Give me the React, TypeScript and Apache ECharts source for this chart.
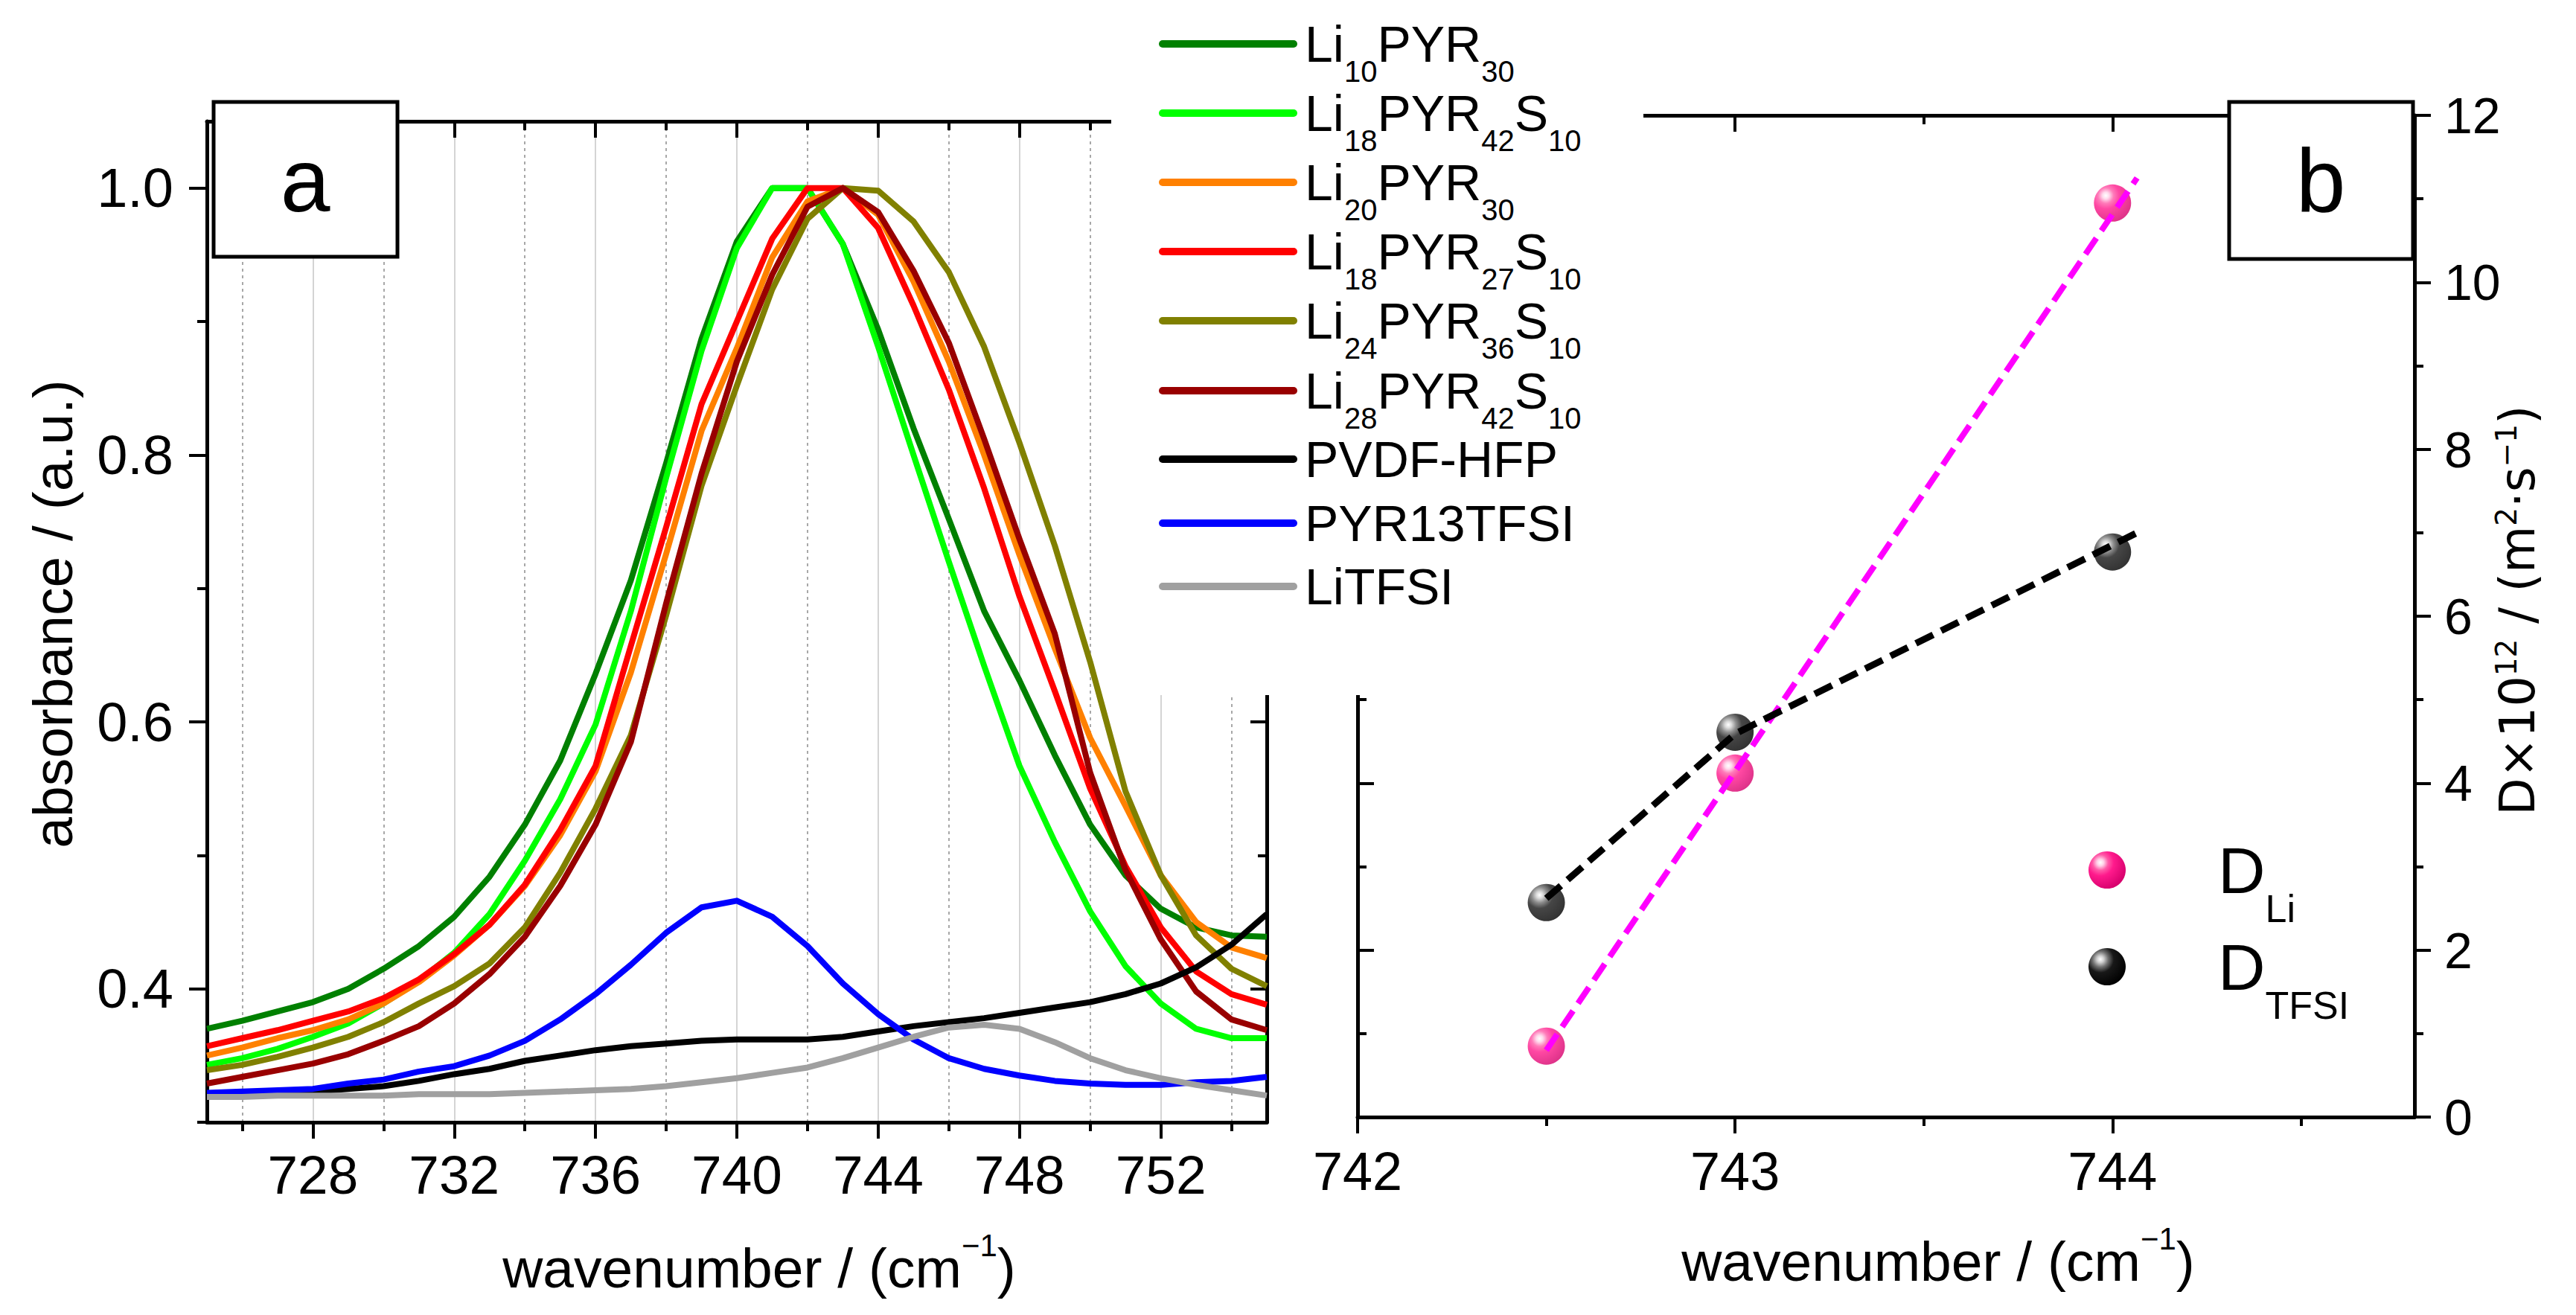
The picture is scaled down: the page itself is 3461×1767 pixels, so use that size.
import React, { useEffect, useRef } from "react";
import * as echarts from "echarts";

const W = 3461;
const H = 1767;
const FONT = "Liberation Sans";

// ---------- panel a : FTIR absorbance ----------
const wavenumbers = [725, 726, 727, 728, 729, 730, 731, 732, 733, 734, 735, 736, 737, 738, 739, 740, 741, 742, 743, 744, 745, 746, 747, 748, 749, 750, 751, 752, 753, 754, 755];

const absLi10PYR30 = [0.370, 0.376, 0.383, 0.390, 0.400, 0.415, 0.432, 0.454, 0.484, 0.523, 0.571, 0.636, 0.706, 0.794, 0.887, 0.960, 1.000, 1.000, 0.958, 0.894, 0.820, 0.752, 0.683, 0.631, 0.575, 0.523, 0.485, 0.460, 0.446, 0.440, 0.439];
const absLi18PYR42S10 = [0.343, 0.348, 0.355, 0.364, 0.374, 0.389, 0.406, 0.427, 0.456, 0.496, 0.542, 0.598, 0.683, 0.783, 0.878, 0.955, 1.000, 1.000, 0.958, 0.881, 0.800, 0.720, 0.642, 0.567, 0.510, 0.458, 0.417, 0.389, 0.370, 0.363, 0.363];
const absLi20PYR30 = [0.350, 0.356, 0.363, 0.369, 0.377, 0.389, 0.405, 0.425, 0.448, 0.477, 0.515, 0.563, 0.637, 0.726, 0.818, 0.880, 0.948, 0.990, 1.000, 0.980, 0.930, 0.870, 0.800, 0.725, 0.655, 0.588, 0.537, 0.485, 0.450, 0.431, 0.423];
const absLi18PYR27S10 = [0.357, 0.363, 0.369, 0.376, 0.383, 0.393, 0.407, 0.426, 0.448, 0.478, 0.519, 0.567, 0.657, 0.746, 0.838, 0.900, 0.962, 1.000, 1.000, 0.970, 0.912, 0.849, 0.775, 0.694, 0.623, 0.550, 0.492, 0.446, 0.413, 0.396, 0.388];
const absLi24PYR36S10 = [0.339, 0.343, 0.349, 0.356, 0.364, 0.375, 0.389, 0.402, 0.419, 0.446, 0.487, 0.535, 0.590, 0.680, 0.777, 0.852, 0.924, 0.977, 1.000, 0.998, 0.975, 0.937, 0.881, 0.809, 0.732, 0.645, 0.548, 0.485, 0.440, 0.415, 0.402];
const absLi28PYR42S10 = [0.329, 0.334, 0.339, 0.344, 0.351, 0.361, 0.372, 0.389, 0.411, 0.439, 0.477, 0.523, 0.585, 0.689, 0.786, 0.870, 0.935, 0.986, 1.000, 0.982, 0.938, 0.884, 0.812, 0.737, 0.666, 0.562, 0.489, 0.437, 0.398, 0.377, 0.369];
const absPVDFHFP = [0.321, 0.322, 0.322, 0.323, 0.325, 0.327, 0.331, 0.336, 0.340, 0.346, 0.350, 0.354, 0.357, 0.359, 0.361, 0.362, 0.362, 0.362, 0.364, 0.368, 0.372, 0.375, 0.378, 0.382, 0.386, 0.390, 0.396, 0.404, 0.416, 0.433, 0.456];
const absPYR13TFSI = [0.322, 0.323, 0.324, 0.325, 0.329, 0.332, 0.338, 0.342, 0.350, 0.361, 0.377, 0.396, 0.418, 0.442, 0.461, 0.466, 0.454, 0.432, 0.404, 0.381, 0.362, 0.348, 0.340, 0.335, 0.331, 0.329, 0.328, 0.328, 0.330, 0.331, 0.334];
const absLiTFSI = [0.319, 0.319, 0.320, 0.320, 0.320, 0.320, 0.321, 0.321, 0.321, 0.322, 0.323, 0.324, 0.325, 0.327, 0.330, 0.333, 0.337, 0.341, 0.348, 0.356, 0.364, 0.371, 0.373, 0.370, 0.360, 0.348, 0.339, 0.333, 0.328, 0.324, 0.320];

const seriesNames = ["Li10PYR30", "Li18PYR42S10", "Li20PYR30", "Li18PYR27S10", "Li24PYR36S10", "Li28PYR42S10", "PVDF-HFP", "PYR13TFSI", "LiTFSI"];
const seriesValues = [absLi10PYR30, absLi18PYR42S10, absLi20PYR30, absLi18PYR27S10, absLi24PYR36S10, absLi28PYR42S10, absPVDFHFP, absPYR13TFSI, absLiTFSI];
const seriesColors = ["#008000", "#00ff00", "#ff8000", "#ff0000", "#808000", "#990000", "#000000", "#0000ff", "#a0a0a0"];
const legendLabels = [
  "{m|Li}{s|10}{m|PYR}{s|30}",
  "{m|Li}{s|18}{m|PYR}{s|42}{m|S}{s|10}",
  "{m|Li}{s|20}{m|PYR}{s|30}",
  "{m|Li}{s|18}{m|PYR}{s|27}{m|S}{s|10}",
  "{m|Li}{s|24}{m|PYR}{s|36}{m|S}{s|10}",
  "{m|Li}{s|28}{m|PYR}{s|42}{m|S}{s|10}",
  "{m|PVDF-HFP}",
  "{m|PYR13TFSI}",
  "{m|LiTFSI}",
];

const xMajorA = [728, 732, 736, 740, 744, 748, 752];
const xMinorA = [726, 730, 734, 738, 742, 746, 750, 754];
const yMajorA = [0.4, 0.6, 0.8, 1.0];
const yMinorA = [0.3, 0.5, 0.7, 0.9];

// ---------- panel b : diffusion coefficients ----------
const peakPositions = [742.5, 743, 744];
const dLi = [0.85, 4.12, 10.95];
const dTFSI = [2.57, 4.61, 6.77];
const fitLiX = [742.5, 744.065];
const fitLiY = [0.8, 11.25];
const fitTFSIX = [742.5, 743, 744.065];
const fitTFSIY = [2.62, 4.59, 7.0];

const xMajorB = [742, 743, 744];
const xMinorB = [742.5, 743.5, 744.5];
const yMajorB = [0, 2, 4, 6, 8, 10, 12];
const yMinorB = [1, 3, 5, 7, 9, 11];

function makeAxis(o: any) {
  return {
    type: "value",
    gridIndex: o.grid,
    position: o.position,
    min: o.min,
    max: o.max,
    axisLine: { show: !!o.line, onZero: false, lineStyle: { color: "#000", width: 5 } },
    axisTick: {
      show: true,
      inside: !!o.inside,
      length: o.tickLen,
      customValues: o.ticks,
      lineStyle: { color: "#000", width: 4 },
    },
    axisLabel: o.labels
      ? {
          show: true,
          customValues: o.ticks,
          margin: o.labelMargin,
          fontSize: o.labelSize,
          fontFamily: FONT,
          color: "#000",
          formatter: o.formatter,
        }
      : { show: false },
    splitLine: o.split ? { show: true, lineStyle: o.split } : { show: false },
    minorTick: { show: false },
    minorSplitLine: { show: false },
    splitArea: { show: false },
  };
}

function pinkBall() {
  return new echarts.graphic.RadialGradient(0.32, 0.3, 0.75, [
    { offset: 0, color: "#ffffff" },
    { offset: 0.12, color: "#ffd2e8" },
    { offset: 0.28, color: "#ff5aa8" },
    { offset: 0.48, color: "#ff1a8c" },
    { offset: 1, color: "#d6006c" },
  ]);
}
function blackBall() {
  return new echarts.graphic.RadialGradient(0.32, 0.3, 0.75, [
    { offset: 0, color: "#ffffff" },
    { offset: 0.12, color: "#d0d0d0" },
    { offset: 0.28, color: "#707070" },
    { offset: 0.48, color: "#181818" },
    { offset: 1, color: "#000000" },
  ]);
}

function buildOption() {
  const xAxis = [
    makeAxis({ grid: 0, position: "bottom", min: 725, max: 755, line: true, ticks: xMajorA, tickLen: 22, labels: true, labelMargin: 34, labelSize: 73, split: { color: "#d4d4d4", width: 2, type: "solid" } }),
    makeAxis({ grid: 0, position: "bottom", min: 725, max: 755, line: false, ticks: xMinorA, tickLen: 12, split: { color: "#a8a8a8", width: 2, type: [4, 5] } }),
    makeAxis({ grid: 0, position: "top", min: 725, max: 755, line: true, inside: true, ticks: xMajorA, tickLen: 22 }),
    makeAxis({ grid: 0, position: "top", min: 725, max: 755, line: false, inside: true, ticks: xMinorA, tickLen: 12 }),
    makeAxis({ grid: 1, position: "bottom", min: 742, max: 744.8, line: true, ticks: xMajorB, tickLen: 22, labels: true, labelMargin: 37, labelSize: 72 }),
    makeAxis({ grid: 1, position: "bottom", min: 742, max: 744.8, line: false, ticks: xMinorB, tickLen: 12 }),
    makeAxis({ grid: 1, position: "top", min: 742, max: 744.8, line: true, inside: true, ticks: xMajorB, tickLen: 22 }),
    makeAxis({ grid: 1, position: "top", min: 742, max: 744.8, line: false, inside: true, ticks: xMinorB, tickLen: 12 }),
  ];
  const yAxis = [
    makeAxis({ grid: 0, position: "left", min: 0.3, max: 1.05, line: true, ticks: yMajorA, tickLen: 24, labels: true, labelMargin: 45, labelSize: 74, formatter: (v: number) => v.toFixed(1) }),
    makeAxis({ grid: 0, position: "left", min: 0.3, max: 1.05, line: false, ticks: yMinorA, tickLen: 13 }),
    makeAxis({ grid: 0, position: "right", min: 0.3, max: 1.05, line: true, inside: true, ticks: yMajorA, tickLen: 22 }),
    makeAxis({ grid: 0, position: "right", min: 0.3, max: 1.05, line: false, inside: true, ticks: yMinorA, tickLen: 12 }),
    makeAxis({ grid: 1, position: "right", min: 0, max: 12, line: true, ticks: yMajorB, tickLen: 22, labels: true, labelMargin: 40, labelSize: 68 }),
    makeAxis({ grid: 1, position: "right", min: 0, max: 12, line: false, ticks: yMinorB, tickLen: 12 }),
    makeAxis({ grid: 1, position: "left", min: 0, max: 12, line: true, inside: true, ticks: yMajorB, tickLen: 22 }),
    makeAxis({ grid: 1, position: "left", min: 0, max: 12, line: false, inside: true, ticks: yMinorB, tickLen: 12 }),
  ];

  const series: any[] = seriesNames.map((name, i) => ({
    name,
    type: "line",
    xAxisIndex: 0,
    yAxisIndex: 0,
    data: wavenumbers.map((w, j) => [w, seriesValues[i][j]]),
    showSymbol: false,
    symbol: "none",
    lineStyle: { color: seriesColors[i], width: 8, join: "round" },
    itemStyle: { color: seriesColors[i] },
    z: 2 + i * 0.01,
  }));

  series.push(
    {
      name: "D_Li",
      type: "scatter",
      xAxisIndex: 4,
      yAxisIndex: 4,
      data: peakPositions.map((p, i) => [p, dLi[i]]),
      symbol: "circle",
      symbolSize: 50,
      itemStyle: { color: pinkBall() },
      z: 3,
    },
    {
      name: "D_TFSI",
      type: "scatter",
      xAxisIndex: 4,
      yAxisIndex: 4,
      data: peakPositions.map((p, i) => [p, dTFSI[i]]),
      symbol: "circle",
      symbolSize: 50,
      itemStyle: { color: blackBall() },
      z: 3,
    },
    {
      name: "D_Li fit",
      type: "line",
      xAxisIndex: 4,
      yAxisIndex: 4,
      data: fitLiX.map((x, i) => [x, fitLiY[i]]),
      showSymbol: false,
      symbol: "none",
      lineStyle: { color: "#ff00ff", width: 8, type: [26, 12] },
      z: 4,
    },
    {
      name: "D_TFSI fit",
      type: "line",
      xAxisIndex: 4,
      yAxisIndex: 4,
      data: fitTFSIX.map((x, i) => [x, fitTFSIY[i]]),
      showSymbol: false,
      symbol: "none",
      lineStyle: { color: "#000000", width: 9, type: [26, 12] },
      z: 4,
    }
  );

  const legendLineY = [59, 152, 245, 338, 431, 525, 617, 703, 788];
  const txt = (props: any) => ({ type: "text", z: 101, ...props });
  const graphic: any[] = [
    { type: "rect", z: 100, shape: { x: 1493, y: 0, width: 715, height: 934 }, style: { fill: "#ffffff" } },
  ];
  seriesNames.forEach((_, i) => {
    graphic.push({
      type: "line",
      z: 101,
      shape: { x1: 1562, y1: legendLineY[i], x2: 1738, y2: legendLineY[i] },
      style: { stroke: seriesColors[i], lineWidth: 10, lineCap: "round" },
    });
    graphic.push(
      txt({
        x: 1753,
        y: legendLineY[i],
        style: {
          text: legendLabels[i],
          align: "left",
          verticalAlign: "middle",
          textAlign: "left",
          textVerticalAlign: "middle",
          fill: "#000",
          fontSize: 68,
          fontFamily: FONT,
          lineHeight: 72,
          rich: {
            m: { fontSize: 68, fontFamily: FONT, lineHeight: 72, fill: "#000" },
            s: { fontSize: 40, fontFamily: FONT, lineHeight: 72, padding: [73, 0, 0, 0], fill: "#000" },
          },
        },
      })
    );
  });

  // panel labels
  graphic.push(
    { type: "rect", z: 100, shape: { x: 287, y: 137, width: 247, height: 208 }, style: { fill: "#fff", stroke: "#000", lineWidth: 5 } },
    txt({ x: 410, y: 242, style: { text: "a", fontSize: 120, fontFamily: FONT, fill: "#000", align: "center", verticalAlign: "middle", textAlign: "center", textVerticalAlign: "middle" } }),
    { type: "rect", z: 100, shape: { x: 2995, y: 137, width: 247, height: 211 }, style: { fill: "#fff", stroke: "#000", lineWidth: 5 } },
    txt({ x: 3118, y: 242, style: { text: "b", fontSize: 120, fontFamily: FONT, fill: "#000", align: "center", verticalAlign: "middle", textAlign: "center", textVerticalAlign: "middle" } })
  );

  // axis titles
  const xTitleRich = {
    m: { fontSize: 75, fontFamily: FONT, lineHeight: 80, fill: "#000" },
    p: { fontSize: 42, fontFamily: FONT, lineHeight: 80, padding: [0, 0, 61, 0], fill: "#000" },
  };
  graphic.push(
    txt({ x: 1020, y: 1704, style: { text: "{m|wavenumber / (cm}{p|\u22121}{m|)}", align: "center", verticalAlign: "middle", textAlign: "center", textVerticalAlign: "middle", fontSize: 75, fontFamily: FONT, lineHeight: 80, fill: "#000", rich: xTitleRich } }),
    txt({ x: 2604, y: 1695, style: { text: "{m|wavenumber / (cm}{p|\u22121}{m|)}", align: "center", verticalAlign: "middle", textAlign: "center", textVerticalAlign: "middle", fontSize: 75, fontFamily: FONT, lineHeight: 80, fill: "#000", rich: xTitleRich } }),
    txt({ x: 71, y: 825, rotation: Math.PI / 2, style: { text: "absorbance / (a.u.)", align: "center", verticalAlign: "middle", textAlign: "center", textVerticalAlign: "middle", fontSize: 75, fontFamily: FONT, fill: "#000" } }),
    txt({
      x: 3382,
      y: 820,
      rotation: Math.PI / 2,
      style: {
        text: "{m|D\u00d710}{p|12}{m| / (m}{p|2}{m|\u00b7s}{p|\u22121}{m|)}",
        align: "center",
        verticalAlign: "middle",
        textAlign: "center",
        textVerticalAlign: "middle",
        fontSize: 65,
        fontFamily: "DejaVu Sans",
        lineHeight: 70,
        fill: "#000",
        rich: {
          m: { fontSize: 65, fontFamily: "DejaVu Sans", lineHeight: 70, fill: "#000" },
          p: { fontSize: 39, fontFamily: "DejaVu Sans", lineHeight: 70, padding: [0, 0, 30, 0], fill: "#000" },
        },
      },
    })
  );

  // panel b legend
  const bRich = {
    m: { fontSize: 88, fontFamily: FONT, lineHeight: 90, fill: "#000" },
    s: { fontSize: 52, fontFamily: FONT, lineHeight: 90, padding: [103, 0, 0, 0], fill: "#000" },
  };
  graphic.push(
    { type: "circle", z: 101, shape: { cx: 2831, cy: 1169, r: 25 }, style: { fill: pinkBall() } },
    { type: "circle", z: 101, shape: { cx: 2831, cy: 1299, r: 25 }, style: { fill: blackBall() } },
    txt({ x: 2980, y: 1169, style: { text: "{m|D}{s|Li}", align: "left", verticalAlign: "middle", textAlign: "left", textVerticalAlign: "middle", fontSize: 88, fontFamily: FONT, lineHeight: 90, fill: "#000", rich: bRich } }),
    txt({ x: 2980, y: 1299, style: { text: "{m|D}{s|TFSI}", align: "left", verticalAlign: "middle", textAlign: "left", textVerticalAlign: "middle", fontSize: 88, fontFamily: FONT, lineHeight: 90, fill: "#000", rich: bRich } })
  );

  return {
    animation: false,
    backgroundColor: "#ffffff",
    textStyle: { fontFamily: FONT, color: "#000" },
    grid: [
      { left: 278, top: 163, width: 1424, height: 1345, containLabel: false, outerBoundsMode: "none" },
      { left: 1824, top: 155, width: 1420, height: 1346, containLabel: false, outerBoundsMode: "none" },
    ],
    xAxis,
    yAxis,
    series,
    graphic,
  };
}

export default function App() {
  const ref = useRef<HTMLDivElement>(null);
  useEffect(() => {
    document.body.style.margin = "0";
    document.body.style.overflow = "hidden";
    if (!ref.current) return;
    const chart = echarts.init(ref.current, undefined, { renderer: "svg", width: W, height: H });
    chart.setOption(buildOption() as any);
    return () => {
      chart.dispose();
    };
  }, []);
  return <div ref={ref} style={{ position: "absolute", left: 0, top: 0, width: W, height: H, background: "#fff" }} />;
}
